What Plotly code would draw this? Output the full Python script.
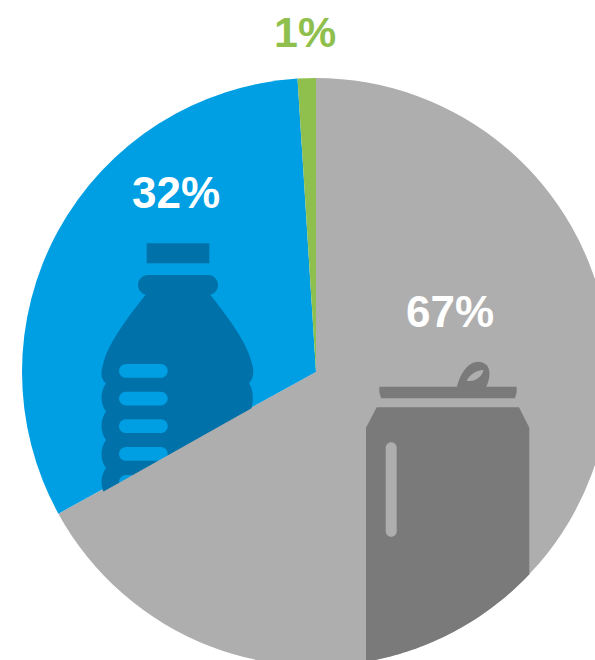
import numpy as np
import plotly.graph_objects as go

categories = ["Aluminium can", "PET bottle", "Other"]
shares = [67, 32, 1]
share_labels = ["67%", "32%", "1%"]
colors = ["#aeaeae", "#009ee2", "#8fbf4d"]

W, H = 612, 670
CX, CY, R = 316, 372, 294
BLUE_D, GRAY_D = "#0071a9", "#7a7a7a"


def px(x):
    return x / W


def py(y):
    return 1 - y / H


def path(cmds):
    out = []
    for c in cmds:
        if c == "Z":
            out.append("Z")
        else:
            op, *pts = c
            out.append(op + " ".join(f"{px(p[0]):.5f},{py(p[1]):.5f}" for p in pts))
    return " ".join(out)


def rrect(x0, y0, x1, y1, r):
    k = r * 0.55
    return path([
        ("M", (x0 + r, y0)), ("L", (x1 - r, y0)),
        ("C", (x1 - r + k, y0), (x1, y0 + r - k), (x1, y0 + r)),
        ("L", (x1, y1 - r)),
        ("C", (x1, y1 - r + k), (x1 - r + k, y1), (x1 - r, y1)),
        ("L", (x0 + r, y1)),
        ("C", (x0 + r - k, y1), (x0, y1 - r + k), (x0, y1 - r)),
        ("L", (x0, y0 + r)),
        ("C", (x0, y0 + r - k), (x0 + r - k, y0), (x0 + r, y0)),
        "Z",
    ])


def shape(d, fill):
    return dict(type="path", xref="paper", yref="paper", path=d, fillcolor=fill,
                line=dict(width=0), layer="above")


shapes = []
# bottle
shapes.append(shape(path([("M", (146.7, 243.3)), ("L", (209.3, 243.3)), ("L", (209.3, 263.3)), ("L", (146.7, 263.3)), "Z"]), BLUE_D))
shapes.append(shape(rrect(138, 275, 218, 295, 10), BLUE_D))
left_notches = [383.5, 411.5, 440, 468, 496]
body = [("M", (147, 293)), ("L", (209, 293)),
        ("C", (228, 318), (248, 342), (253, 368)),
        ("C", (254, 375), (252, 380), (249, 383.5)),
        ("C", (254, 390), (254, 405), (250, 412)),
        ("L", (250, 500)), ("L", (106, 496)),
        ]
y_prev = 496
for yn in reversed(left_notches[:-1]):
    body.append(("C", (100, y_prev - 8), (100, yn + 8), (106, yn)))
    y_prev = yn
body.append(("C", (100, 378), (101, 372), (103, 365)))
body.append(("C", (107, 345), (127, 318), (147, 293)))
body.append("Z")
shapes.append(shape(path(body), BLUE_D))
for y0 in [364, 391.7, 419.3, 447, 475]:
    shapes.append(shape(rrect(119, y0, 167.7, y0 + 13.8, 6.9), colors[1]))
# grey wedge covers the lower part of the bottle
shapes.append(shape(path([("M", (CX, CY)), ("L", (80, CY + (CX - 80) * 0.5627)), ("L", (100, 530)), ("L", (CX, 530)), "Z"]), colors[0]))

# can
shapes.append(shape(path([("M", (379.3, 386.7)), ("L", (516.7, 386.7)), ("L", (516.7, 392)), ("L", (515, 398.3)), ("L", (381, 398.3)), ("L", (379.3, 392)), "Z"]), GRAY_D))
shapes.append(shape(path([("M", (456.7, 388)), ("C", (459, 376), (467, 362), (478, 361.7)),
                          ("C", (491, 362), (492, 375), (485.7, 388)), "Z"]), GRAY_D))
shapes.append(shape(path([("M", (466.7, 381)), ("C", (469, 375), (476, 370.5), (483.3, 370)),
                          ("C", (483, 375), (477, 381), (470, 381)), "Z"]), colors[0]))
xs = np.linspace(529.3, 366, 40)
ys = CY + np.sqrt(R ** 2 - (xs - CX) ** 2)
can = [("M", (376.7, 407.3)), ("L", (519, 407.3)), ("L", (529.3, 427.7))]
can += [("L", (float(x), float(y))) for x, y in zip(xs, ys)]
can += [("L", (366, 427.7)), "Z"]
shapes.append(shape(path(can), GRAY_D))
shapes.append(shape(rrect(385.7, 442.3, 396.7, 536.7, 5.5), colors[0]))

fig = go.Figure(go.Pie(
    labels=categories, values=shares, sort=False, direction="clockwise", rotation=0,
    marker=dict(colors=colors, line=dict(width=0)), textinfo="none", hoverinfo="label+percent",
    showlegend=False,
    domain=dict(x=[px(CX - R), px(CX + R)], y=[py(CY + R), py(CY - R)]),
))

positions = [(450, 312), (176, 192.5), (305, 32)]
text_colors = ["white", "white", colors[2]]
text_sizes = [44, 44, 43]
annotations = [
    dict(text=t, x=px(x), y=py(y), xref="paper", yref="paper", showarrow=False,
         xanchor="center", yanchor="middle",
         font=dict(family="Liberation Sans", size=s, color=c, weight="bold"))
    for t, (x, y), c, s in zip(share_labels, positions, text_colors, text_sizes)
]

fig.update_layout(width=W, height=H, margin=dict(l=0, r=0, t=0, b=0),
                  paper_bgcolor="white", shapes=shapes, annotations=annotations)
fig.write_html("out.html", config=dict(displayModeBar=False),
               post_script="document.body.style.margin='0';document.documentElement.style.overflow='hidden';document.body.style.overflow='hidden';")
